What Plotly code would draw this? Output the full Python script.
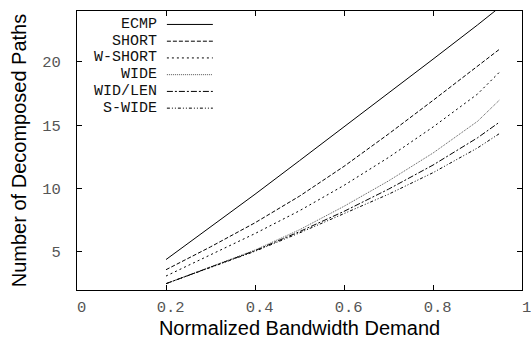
import plotly.graph_objects as go

demand = [0.2, 0.3, 0.4, 0.5, 0.6, 0.7, 0.8, 0.9, 0.95]
ecmp    = [4.4, 6.95, 9.55, 12.2, 14.85, 17.5, 20.2, 22.9, 24.3]
short   = [3.6, 5.4, 7.3, 9.4, 11.75, 14.3, 16.95, 19.65, 21.0]
w_short = [3.1, 4.75, 6.45, 8.25, 10.25, 12.45, 14.85, 17.45, 19.2]
wide    = [2.5, 3.8, 5.15, 6.75, 8.6, 10.6, 12.8, 15.3, 17.0]
wid_len = [2.5, 3.8, 5.1, 6.6, 8.2, 9.95, 11.85, 14.0, 15.25]
s_wide  = [2.5, 3.78, 5.05, 6.5, 8.0, 9.55, 11.25, 13.2, 14.35]

names = ["ECMP", "SHORT", "W-SHORT", "WIDE", "WID/LEN", "S-WIDE"]
series = [ecmp, short, w_short, wide, wid_len, s_wide]
dashes = ["solid", "4px,2px", "2px,3px", "1px,1px", "6px,2px,2px,2px", "3px,2px,1px,2px,1px,2px"]
colors = ["#000000", "#000000", "#000000", "#555555", "#000000", "#000000"]

x_ticks = [0, 0.2, 0.4, 0.6, 0.8, 1]
x_ticktext = ["\u00a00", "\u00a00.2", "\u00a00.4", "\u00a00.6", "\u00a00.8", "\u00a01"]
y_ticks = [5, 10, 15, 20]

L, R, T, B = 77, 8.5, 10.5, 53.5
PW, PH = 531 - L - R, 344 - T - B

fig = go.Figure()
for n, s, d, c in zip(names, series, dashes, colors):
    fig.add_trace(go.Scatter(x=demand, y=s, mode="lines", name=n,
                             line=dict(color=c, width=1, dash=d), showlegend=False))

# gnuplot-style key: right-aligned text, sample line to the right
key_top = 24
key_step = 16.8
for i, (n, d, c) in enumerate(zip(names, dashes, colors)):
    ypix = key_top + i * key_step
    yp = 1 - (ypix - T) / PH
    fig.add_annotation(x=(158 - L) / PW, y=yp, xref="paper", yref="paper",
                       text=n, showarrow=False, xanchor="right", yanchor="middle",
                       borderpad=0,
                       font=dict(family="Liberation Mono", size=15, color="#111"))
    fig.add_shape(type="line", xref="paper", yref="paper",
                  x0=(167 - L) / PW, x1=(213 - L) / PW, y0=yp, y1=yp,
                  line=dict(color=c, width=1, dash=d))

axis_common = dict(showline=True, linecolor="black", linewidth=1, mirror="allticks",
                   ticks="inside", ticklen=5, tickcolor="black", showgrid=False,
                   zeroline=False, automargin=False, ticklabeloverflow="allow",
                   tickfont=dict(family="Liberation Mono", size=15.5, color="#555"))

fig.update_layout(
    width=531, height=344,
    margin=dict(l=L, r=R, t=T, b=B),
    plot_bgcolor="white", paper_bgcolor="white",
    xaxis=dict(range=[0, 1], tickvals=x_ticks, ticktext=x_ticktext,
               title=dict(text="Normalized Bandwidth Demand", standoff=4,
                          font=dict(family="Liberation Sans", size=20, color="#000")),
               ticklabelstandoff=2, **axis_common),
    yaxis=dict(range=[2, 24], tickvals=y_ticks,
               title=dict(text="Number of Decomposed Paths", standoff=10,
                          font=dict(family="Liberation Sans", size=20, color="#000")),
               ticklabelstandoff=12, **axis_common),
)

fig.write_html("out.html", config={"displayModeBar": False},
               post_script="document.body.style.margin='0';document.body.style.overflow='hidden';")
